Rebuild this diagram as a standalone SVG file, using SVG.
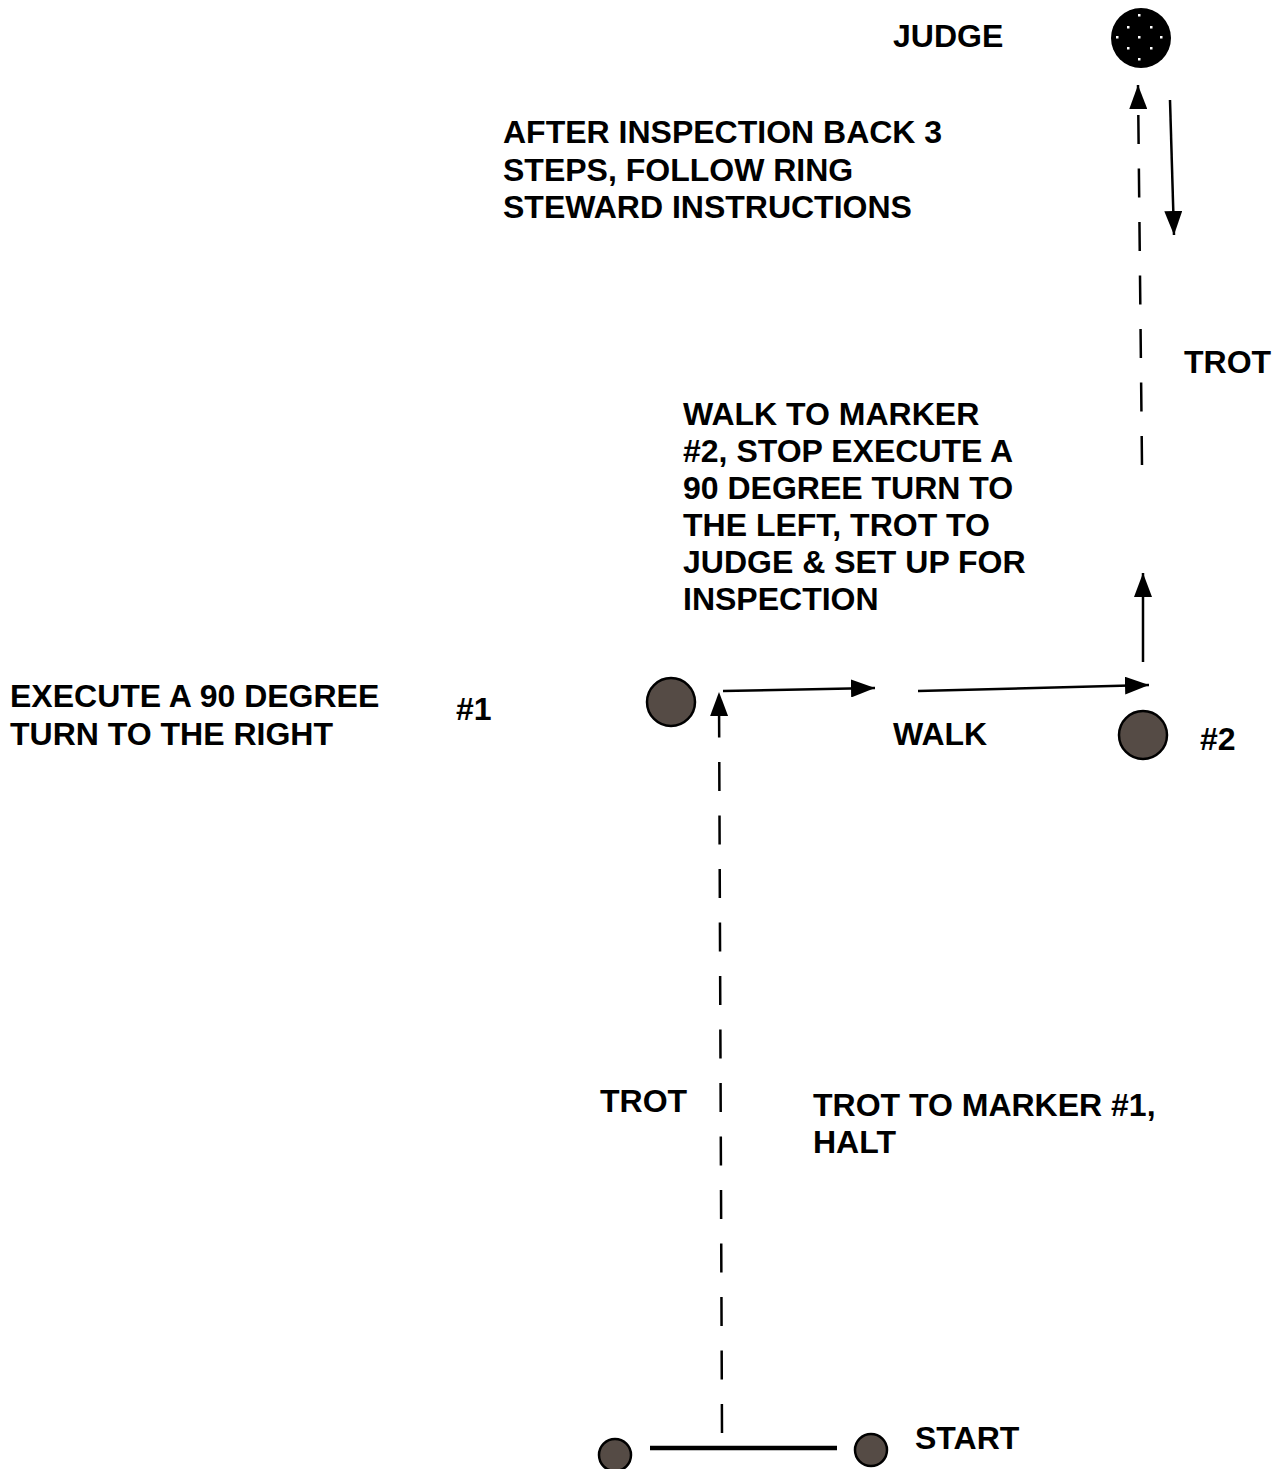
<svg xmlns="http://www.w3.org/2000/svg" width="1280" height="1469" viewBox="0 0 1280 1469">
<style>
text { font-family: "Liberation Sans", Arial, sans-serif; font-weight: bold; font-size: 32px; fill: #000; }
.arrow { fill: none; stroke: #000; stroke-width: 2.5; marker-end: url(#ah); }
.dash { stroke-dasharray: 29 24.5; }
.marker { fill: #554b45; stroke: #000; stroke-width: 2.5; }
.dot { fill: #fff; }
</style>
<defs>
<marker id="ah" markerUnits="userSpaceOnUse" markerWidth="24" markerHeight="18" refX="24" refY="9" orient="auto" viewBox="0 0 24 18">
<path d="M0,0 L24,9 L0,18 Z" fill="#000"/>
</marker>
</defs>
<rect width="1280" height="1469" fill="#fff"/>

<g id="judge">
<circle cx="1141" cy="38" r="30" fill="#000"/>
<rect class="dot" x="1138" y="14" width="2.5" height="2.5"/>
<rect class="dot" x="1127" y="26" width="2.5" height="2.5"/>
<rect class="dot" x="1150" y="26" width="2.5" height="2.5"/>
<rect class="dot" x="1116" y="36" width="2.5" height="2.5"/>
<rect class="dot" x="1138" y="36" width="2.5" height="2.5"/>
<rect class="dot" x="1160" y="36" width="2.5" height="2.5"/>
<rect class="dot" x="1127" y="47" width="2.5" height="2.5"/>
<rect class="dot" x="1150" y="47" width="2.5" height="2.5"/>
<rect class="dot" x="1138" y="58" width="2.5" height="2.5"/>
<text x="893" y="47">JUDGE</text>
</g>

<g id="marker1">
<circle class="marker" cx="671" cy="702" r="24"/>
<text x="456" y="720">#1</text>
</g>

<g id="marker2">
<circle class="marker" cx="1143" cy="735" r="24"/>
<text x="1200" y="750">#2</text>
</g>

<g id="start">
<circle class="marker" cx="615" cy="1455" r="16"/>
<circle class="marker" cx="871" cy="1450" r="16"/>
<line x1="650" y1="1448" x2="837" y2="1448" stroke="#000" stroke-width="4.5"/>
<text x="915" y="1449">START</text>
</g>

<g id="labels">
<text x="503" y="143">AFTER INSPECTION BACK 3</text>
<text x="503" y="180.5">STEPS, FOLLOW RING</text>
<text x="503" y="218">STEWARD INSTRUCTIONS</text>
<text x="1184" y="373">TROT</text>
<text x="683" y="425">WALK TO MARKER</text>
<text x="683" y="462">#2, STOP EXECUTE A</text>
<text x="683" y="499">90 DEGREE TURN TO</text>
<text x="683" y="536">THE LEFT, TROT TO</text>
<text x="683" y="573">JUDGE &amp; SET UP FOR</text>
<text x="683" y="610">INSPECTION</text>
<text x="10" y="707">EXECUTE A 90 DEGREE</text>
<text x="10" y="745">TURN TO THE RIGHT</text>
<text x="893" y="745">WALK</text>
<text x="600" y="1112">TROT</text>
<text x="813" y="1116">TROT TO MARKER #1,</text>
<text x="813" y="1153">HALT</text>
</g>

<g id="connectors">
<path class="arrow dash" d="M722,1433 L719,692"/>
<path class="arrow" d="M723,691 L875,688"/>
<path class="arrow" d="M918,691 L1149,685"/>
<path class="arrow" d="M1143,662 L1143,573"/>
<path class="arrow dash" d="M1142,465 L1138,85"/>
<path class="arrow" d="M1170,100 L1174,235"/>
</g>
</svg>
